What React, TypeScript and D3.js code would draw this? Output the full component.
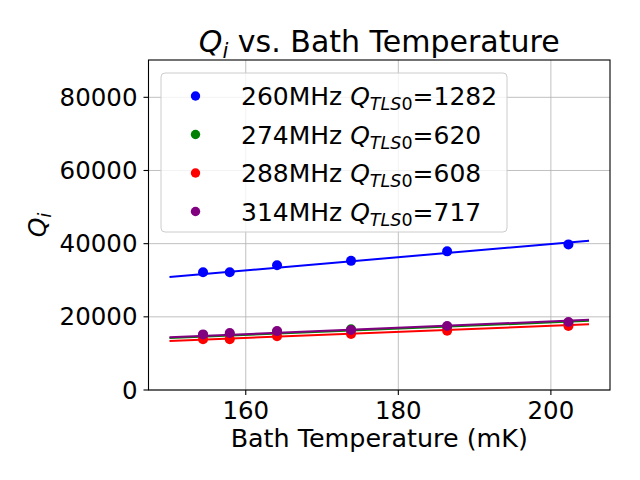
import React from 'react';
import * as d3 from 'd3';

// measured bath temperatures (mK)
const temps = [154.4, 157.9, 164.1, 173.8, 186.4, 202.3];

// Qi per resonator
const q260 = [32200, 32200, 34100, 35300, 37900, 39800];
const q274 = [15000, 15300, 15900, 16600, 17300, 18400];
const q288 = [13900, 13900, 14700, 15300, 16200, 17500];
const q314 = [15200, 15600, 16100, 16400, 17500, 18600];

// fit curves (endpoints at 150 and 205 mK)
const fitTemps = [150, 205];
const fit260 = [30900, 40800];
const fit274 = [14200, 18900];
const fit288 = [13400, 17950];
const fit314 = [14400, 19200];

const labels = ['260MHz', '274MHz', '288MHz', '314MHz'];
const qtls = ['1282', '620', '608', '717'];
const colors = ['blue', 'green', 'red', 'purple'];

const xTicks = [160, 180, 200];
const yTicks = [0, 20000, 40000, 60000, 80000];

const W = 640;
const H = 480;
const margin = { left: 148.5, right: 30, top: 60, bottom: 90 };
const FONT = 'DejaVu Sans, sans-serif';

export default function App() {
  const x = d3.scaleLinear().domain([147.25, 207.75]).range([margin.left, W - margin.right]);
  const y = d3.scaleLinear().domain([0, 90200]).range([H - margin.bottom, margin.top]);

  const series = [q260, q274, q288, q314];
  const fits = [fit260, fit274, fit288, fit314];

  const line = d3.line<[number, number]>()
    .x(d => x(d[0]))
    .y(d => y(d[1]));

  const x0 = margin.left;
  const x1 = W - margin.right;
  const y0 = H - margin.bottom;
  const y1 = margin.top;

  return (
    <div style={{ position: 'fixed', left: 0, top: 0 }}>
      <svg width={W} height={H} style={{ display: 'block', background: 'white' }} fontFamily={FONT}>
        {/* grid */}
        <g stroke="#b0b0b0" strokeWidth={0.8}>
          {xTicks.map(t => (
            <line key={'gx' + t} x1={x(t)} x2={x(t)} y1={y0} y2={y1} />
          ))}
          {yTicks.map(t => (
            <line key={'gy' + t} x1={x0} x2={x1} y1={y(t)} y2={y(t)} />
          ))}
        </g>

        {/* data + fits */}
        {series.map((s, i) => (
          <g key={labels[i]}>
            {s.map((v, j) => (
              <circle key={j} cx={x(temps[j])} cy={y(v)} r={5} fill={colors[i]} />
            ))}
            <path
              d={line(fitTemps.map((t, j) => [t, fits[i][j]] as [number, number])) || ''}
              fill="none"
              stroke={colors[i]}
              strokeWidth={2}
            />
          </g>
        ))}

        {/* spines */}
        <rect x={x0} y={y1} width={x1 - x0} height={y0 - y1} fill="none" stroke="black" strokeWidth={1.1} />

        {/* x ticks */}
        {xTicks.map(t => (
          <g key={'xt' + t} transform={`translate(${x(t)},${y0})`}>
            <line y1={0} y2={5} stroke="black" strokeWidth={1.1} />
            <text y={29} textAnchor="middle" fontSize={24.5} fill="black">{t}</text>
          </g>
        ))}

        {/* y ticks */}
        {yTicks.map(t => (
          <g key={'yt' + t} transform={`translate(${x0},${y(t)})`}>
            <line x1={0} x2={-5} stroke="black" strokeWidth={1.1} />
            <text x={-11} dy="0.35em" textAnchor="end" fontSize={24.5} fill="black">{t}</text>
          </g>
        ))}

        {/* axis labels */}
        <text x={(x0 + x1) / 2} y={447} textAnchor="middle" fontSize={25.4} fill="black">
          Bath Temperature (mK)
        </text>
        <text transform={`translate(46,${(y0 + y1) / 2}) rotate(-90)`} textAnchor="middle" fontSize={25} fill="black">
          <tspan fontStyle="italic">Q</tspan>
          <tspan fontStyle="italic" fontSize={18} dy={5}>i</tspan>
        </text>

        {/* title */}
        <text x={(x0 + x1) / 2} y={52} textAnchor="middle" fontSize={30} fill="black">
          <tspan fontStyle="italic">Q</tspan>
          <tspan fontStyle="italic" fontSize={21} dy={6}>i</tspan>
          <tspan dy={-6}> vs. Bath Temperature</tspan>
        </text>

        {/* legend */}
        <g>
          <rect x={161} y={73} width={346} height={159} rx={4} fill="white" fillOpacity={0.8} stroke="#cccccc" strokeWidth={1} />
          {labels.map((l, i) => {
            const cy = 96 + i * 38.5;
            return (
              <g key={'lg' + l}>
                <circle cx={195.5} cy={cy} r={4.7} fill={colors[i]} />
                <text x={241} y={cy} dy="0.36em" fontSize={25} fill="black">
                  {l + ' '}
                  <tspan fontStyle="italic">Q</tspan>
                  <tspan fontSize={17.5} dy={5}>
                    <tspan fontStyle="italic">TLS</tspan>0
                  </tspan>
                  <tspan dy={-5}>={qtls[i]}</tspan>
                </text>
              </g>
            );
          })}
        </g>
      </svg>
    </div>
  );
}
